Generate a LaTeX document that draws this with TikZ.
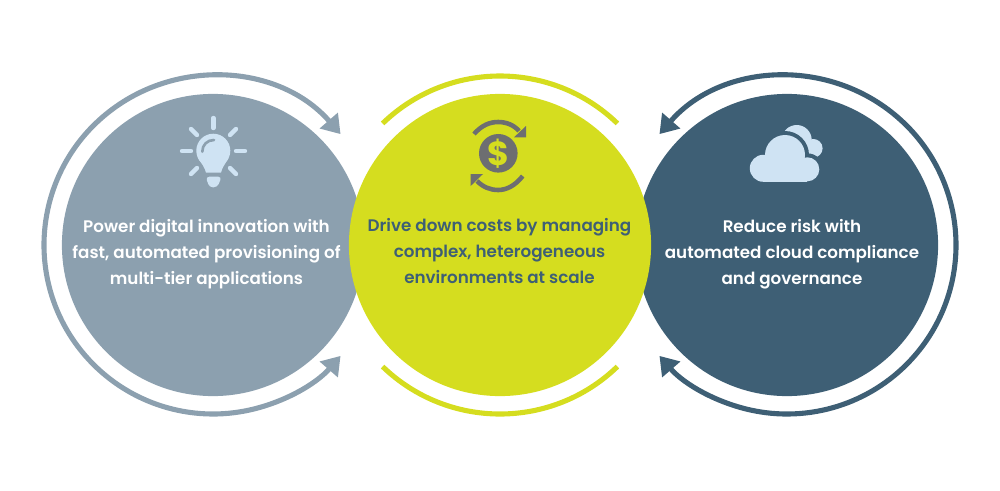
\documentclass[tikz,border=0pt]{standalone}
\usepackage{fontspec}
\setmainfont{Poppins SemiBold}
\newfontfamily\dollarfont{Poppins Bold}
\usepackage{xcolor}
\usetikzlibrary{calc,arrows.meta,positioning}
\definecolor{slategrey}{HTML}{8CA0AF}
\definecolor{limeyellow}{HTML}{D5DD1F}
\definecolor{deepblue}{HTML}{3E5F75}
\definecolor{paleblue}{HTML}{CFE3F3}
\definecolor{coingrey}{HTML}{6D6E71}
\tikzset{
  bubble/.style={circle,inner sep=0pt,outer sep=0pt,minimum size=3.02cm},
  ring/.style={line width=1.45pt},
  ringtip/.style={{Triangle[length=0.18cm,width=0.23cm]}-{Triangle[length=0.18cm,width=0.23cm]}},
  caption/.style={align=center,inner sep=0pt,font=\fontsize{4.76}{7.37}\selectfont},
  ray/.style={line width=1.25pt,line cap=round,paleblue}
}
\begin{document}
\begin{tikzpicture}[x=0.01cm,y=0.01cm]
  \useasboundingbox (0,0) rectangle (1000,490);
  % circles
  \node[bubble,fill=slategrey] (power) at (213,245) {};
  \node[bubble,fill=deepblue] (risk) at (787,245) {};
  \node[bubble,fill=limeyellow] (costs) at (500,245) {};
  % rings
  \draw[ring,ringtip,slategrey] ($(power)+(41:169)$) arc[start angle=41,end angle=319,radius=169];
  \draw[ring,ringtip,deepblue] ($(risk)+(139:169)$) arc[start angle=139,end angle=-139,radius=169];
  \draw[ring,limeyellow] ($(costs)+(46:169)$) arc[start angle=46,end angle=134,radius=169];
  \draw[ring,limeyellow] ($(costs)+(-46:169)$) arc[start angle=-46,end angle=-134,radius=169];
  % bulb
  \fill[paleblue] (213.3,339.3) circle (17);
  \fill[paleblue] (198,332) .. controls (202,326) and (205,322) .. (206,317.3) -- (221,317.3) .. controls (222,322) and (225,326) .. (228.5,332) -- cycle;
  \fill[paleblue,rounded corners=1pt] (205.7,313.3) -- (221.7,313.3) -- (217.3,302.7) -- (209.3,302.7) -- cycle;
  \draw[slategrey,line width=0.75pt,line cap=round] (202.3,338.3) .. controls (202.3,345) and (207,350) .. (214,350);
  \draw[ray] (213.3,372) -- (213.3,362);
  \draw[ray] (182,339) -- (191,339);
  \draw[ray] (236,339) -- (245,339);
  \draw[ray] (191,361) -- (197,355);
  \draw[ray] (236,361) -- (230,355);
  \draw[ray] (191,316) -- (197,322);
  \draw[ray] (236,316) -- (230,322);
  % coin
  \node[circle,fill=coingrey,inner sep=0pt,outer sep=0pt,minimum size=0.386cm] (coin) at (498.3,336.7) {};
  \node[limeyellow,inner sep=0pt,font=\dollarfont\fontsize{9.5}{9.5}\selectfont] at (coin) {\$};
  \draw[coingrey,line width=1.3pt] (474,356) .. controls (482,365) and (490,368) .. (498.3,368) .. controls (506,368) and (514,365) .. (519,359);
  \fill[coingrey] (526,364) -- (526,352.7) -- (514,352.7) -- cycle;
  \draw[coingrey,line width=1.3pt] (522.7,314) .. controls (515,304) and (506,300) .. (498.3,300) .. controls (490,300) and (483,303) .. (477,309);
  \fill[coingrey] (470.7,316) -- (470.7,304) -- (483,316) -- cycle;
  % cloud
  \fill[paleblue] (796.7,350) circle (15);
  \fill[paleblue] (813.3,341.7) circle (9.3);
  \fill[deepblue] (785,335) circle (24);
  \fill[deepblue] (807.3,320.7) circle (16);
  \fill[paleblue] (763.3,321.7) circle (13.5);
  \fill[paleblue] (807.3,320.7) circle (12);
  \fill[paleblue] (785,335) circle (20);
  \fill[paleblue] (763.3,308.3) rectangle (807.3,325);
  % captions
  \node[caption,white] (powertext) at (206.5,236) {Power digital innovation with\\fast, automated provisioning of\\multi-tier applications};
  \node[caption,deepblue] (coststext) at (499.5,239) {Drive down costs by managing\\complex, heterogeneous\\environments at scale};
  \node[caption,white] (risktext) at (792,236) {Reduce risk with\\automated cloud compliance\\and governance};
\end{tikzpicture}
\end{document}
